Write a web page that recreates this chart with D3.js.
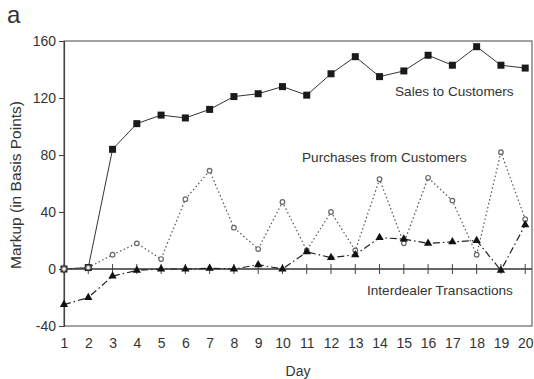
<!DOCTYPE html>
<html>
<head>
<meta charset="utf-8">
<script src="https://cdn.jsdelivr.net/npm/d3@7"></script>
<style>
  body { margin: 0; background: #fff; }
  svg text { font-family: "Liberation Sans Narrow", "Liberation Sans", Arial, sans-serif; fill: #333; }
</style>
</head>
<body>
<div id="chart"></div>
<script>
const w = 534;
const h = 379;
const margin = {top: 41, right: 2, bottom: 53, left: 64};

// data
const days = d3.range(1, 21);
const sales = [0, 1, 84, 102, 108, 106, 112, 121, 123, 128, 122, 137, 149, 135, 139, 150, 143, 156, 143, 141];
const purchases = [0, 1, 10, 18, 7, 49, 69, 29, 14, 47, 13, 40, 13, 63, 18, 64, 48, 10, 82, 35];
const interdealer = [-25, -20, -5, -1, 0, 0, 0.5, 0, 3, 0, 12, 8, 10, 22, 21, 18, 19, 20, -1, 31];
const yTicks = [-40, 0, 40, 80, 120, 160];

const svg = d3.select("#chart").append("svg").attr("width", w).attr("height", h);

const x = d3.scaleLinear().domain([1, 20.28]).range([margin.left, w - margin.right]);
const y = d3.scaleLinear().domain([-40, 160]).range([h - margin.bottom, margin.top]);

// frame
svg.append("rect")
    .attr("x", x(1)).attr("y", y(160))
    .attr("width", x(20.28) - x(1)).attr("height", y(-40) - y(160))
    .style("fill", "none").style("stroke", "#666").style("stroke-width", 1.2);

// y axis (plain hyphen for negatives, like the original)
const yAxis = svg.append("g")
    .attr("transform", "translate(" + x(1) + ",0)")
    .call(d3.axisLeft(y).tickValues(yTicks).tickSize(5).tickPadding(3).tickFormat(d => String(d)));
yAxis.select(".domain").style("stroke", "#444").style("stroke-width", 1.2);
yAxis.selectAll("line").style("stroke", "#444");
yAxis.selectAll("text").style("font-size", "14px").style("fill", "#333");

// zero line with x ticks crossing it
svg.append("line")
    .attr("x1", x(1)).attr("x2", x(20.28))
    .attr("y1", y(0)).attr("y2", y(0))
    .style("stroke", "#333").style("stroke-width", 1.4);
svg.append("g").selectAll("line")
    .data(days).enter().append("line")
    .attr("x1", d => x(d)).attr("x2", d => x(d))
    .attr("y1", y(0) - 5).attr("y2", y(0) + 5)
    .style("stroke", "#444");

// x tick labels
const xAxis = svg.append("g")
    .attr("transform", "translate(0," + y(-40) + ")")
    .call(d3.axisBottom(x).tickValues(days).tickSize(0).tickPadding(12).tickFormat(d => String(d)));
xAxis.select(".domain").remove();
xAxis.selectAll("text").style("font-size", "14px").style("fill", "#333");

// axis titles
svg.append("text")
    .attr("x", 298).attr("y", 376)
    .attr("text-anchor", "middle").style("font-size", "14px").text("Day");
svg.append("text")
    .attr("transform", "translate(21,185) rotate(-90)")
    .attr("text-anchor", "middle").style("font-size", "15.5px").text("Markup (in Basis Points)");
svg.append("text")
    .attr("x", 7).attr("y", 23).style("font-size", "24px").text("a");

// lines
const series = [
    {name: "sales", values: sales, dash: null, color: "#333", width: 1},
    {name: "purchases", values: purchases, dash: "1.5,2.5", color: "#555", width: 1.2},
    {name: "interdealer", values: interdealer, dash: "7,3,1.5,3", color: "#222", width: 1.2}
];
const line = d3.line().x((d, i) => x(days[i])).y(d => y(d));

series.forEach(s => {
    svg.append("path")
        .datum(s.values)
        .attr("d", line)
        .style("fill", "none")
        .style("stroke", s.color)
        .style("stroke-width", s.width)
        .style("stroke-dasharray", s.dash);
});

// markers
svg.append("g").selectAll("rect")
    .data(sales).enter().append("rect")
    .attr("x", (d, i) => x(days[i]) - 3.5).attr("y", d => y(d) - 3.5)
    .attr("width", 7).attr("height", 7)
    .style("fill", "#1a1a1a");

svg.append("g").selectAll("circle")
    .data(purchases).enter().append("circle")
    .attr("cx", (d, i) => x(days[i])).attr("cy", d => y(d))
    .attr("r", 2.3)
    .style("fill", "#fff").style("stroke", "#666").style("stroke-width", 1.2);

const tri = d3.symbol().type(d3.symbolTriangle).size(30);
svg.append("g").selectAll("path")
    .data(interdealer).enter().append("path")
    .attr("d", tri)
    .attr("transform", (d, i) => "translate(" + x(days[i]) + "," + y(d) + ")")
    .style("fill", "#111");

// series labels
svg.append("text").attr("x", 395).attr("y", 96).style("font-size", "13.6px").text("Sales to Customers");
svg.append("text").attr("x", 302).attr("y", 162).style("font-size", "13.6px").text("Purchases from Customers");
svg.append("text").attr("x", 367).attr("y", 295).style("font-size", "13.6px").text("Interdealer Transactions");
</script>
</body>
</html>
